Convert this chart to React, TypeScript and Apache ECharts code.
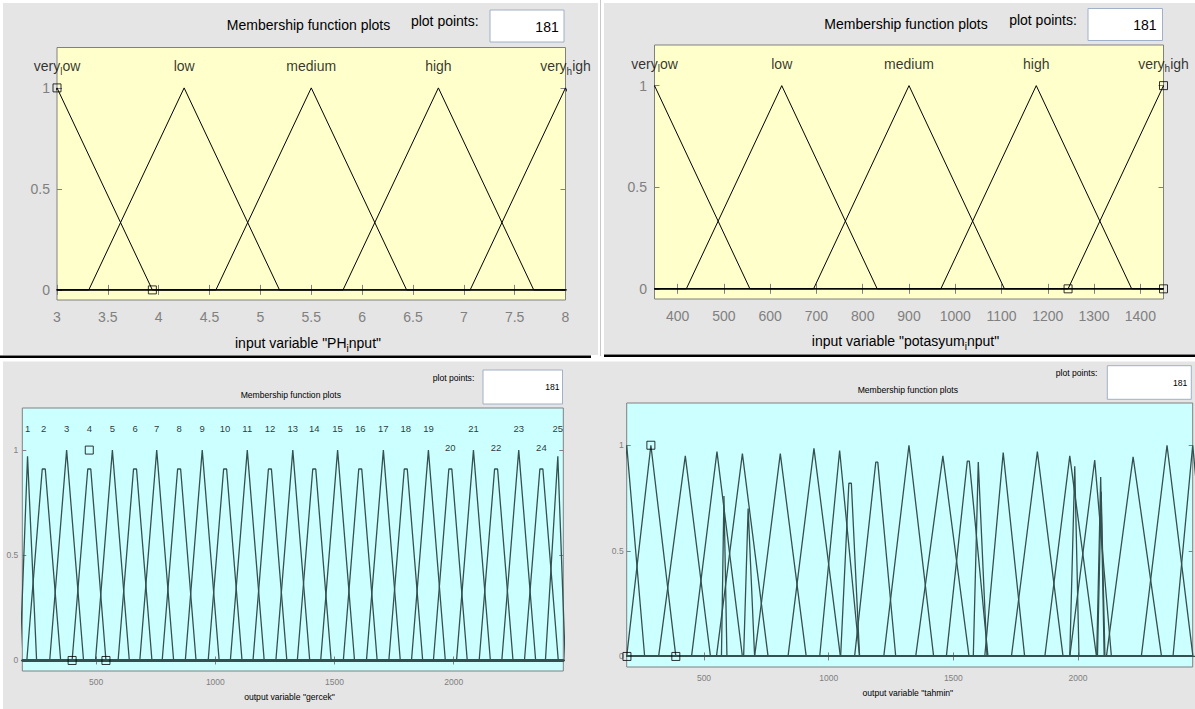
import React, { useEffect, useRef } from "react";
import * as echarts from "echarts";

// ---------------- data ----------------
const phLabels = ["very_low", "low", "medium", "high", "very_high"];
const phLeft = [2.0625, 3.3125, 4.5625, 5.8125, 7.0625];
const phPeak = [3, 4.25, 5.5, 6.75, 8];
const phRight = [3.9375, 5.1875, 6.4375, 7.6875, 8.9375];
const phTicks = [3, 3.5, 4, 4.5, 5, 5.5, 6, 6.5, 7, 7.5, 8];
const phSelected = [[3, 1], [3.9375, 0]];

const potLabels = ["very_low", "low", "medium", "high", "very_high"];
const potLeft = [143.75, 418.75, 693.75, 968.75, 1243.75];
const potPeak = [350, 625, 900, 1175, 1450];
const potRight = [556.25, 831.25, 1106.25, 1381.25, 1656.25];
const potTicks = [400, 500, 600, 700, 800, 900, 1000, 1100, 1200, 1300, 1400];
const potSelected = [[1243.75, 0], [1450, 1], [1450, 0]];

const gercekLabels = ["1", "2", "3", "4", "5", "6", "7", "8", "9", "10", "11", "12", "13", "14", "15", "16", "17", "18", "19", "20", "21", "22", "23", "24", "25"];
const gercekLeft = [180, 209, 305, 399, 497, 592, 683, 777, 874, 970, 1063, 1158, 1254, 1344, 1442, 1537, 1634, 1728, 1823, 1915, 2012, 2107, 2202, 2297, 2385];
const gercekPeak = [212, 280, 376, 471, 568, 663, 754, 848, 945, 1041, 1134, 1229, 1325, 1415, 1513, 1608, 1705, 1799, 1894, 1986, 2083, 2178, 2273, 2368, 2437];
const gercekRight = [250, 351, 447, 541, 639, 734, 825, 919, 1016, 1112, 1205, 1300, 1396, 1486, 1584, 1679, 1776, 1870, 1965, 2057, 2154, 2249, 2344, 2439, 2468];
const gercekHeight = [0.97, 0.91, 1, 0.91, 1, 0.91, 1, 0.91, 1, 0.91, 1, 0.91, 1, 0.91, 1, 0.91, 1, 0.91, 1, 0.91, 1, 0.91, 1, 0.91, 0.97];
const gercekFlat = [0, 12.6, 0, 12.6, 0, 12.6, 0, 12.6, 0, 12.6, 0, 12.6, 0, 12.6, 0, 12.6, 0, 12.6, 0, 12.6, 0, 12.6, 0, 12.6, 0];
const gercekSelected = [[399, 0], [471, 1], [541, 0]];

const tahminLeft = [118, 191, 318, 450, 570, 550, 659, 703, 837, 964, 1048, 1104, 1221, 1349, 1472, 1580, 1626, 1733, 1867, 1967, 1967, 2075, 2078, 2114, 2254, 2381];
const tahminPeak = [190, 287, 425, 552, 580, 654, 677, 806, 941, 1044, 1086, 1193, 1322, 1458, 1560, 1600, 1700, 1837, 1967, 1987, 2067, 2091, 2093, 2221, 2357, 2460];
const tahminRight = [262, 387, 526, 654, 592, 757, 703, 910, 1047, 1124, 1124, 1269, 1421, 1563, 1639, 1635, 1786, 1940, 2074, 2004, 2134, 2105, 2108, 2335, 2461, 2540];
const tahminHeight = [1, 1, 0.95, 0.97, 0.76, 0.96, 0.7, 0.96, 0.985, 0.975, 0.82, 0.92, 1, 0.95, 0.925, 0.92, 0.965, 0.97, 0.95, 0.9, 0.93, 0.85, 0.78, 0.945, 1, 1];
const tahminFlat = [0, 0, 0, 0, 0, 0, 0, 0, 0, 0, 10, 8, 0, 0, 8, 0, 0, 0, 0, 0, 0, 0, 0, 0, 0, 0];
const tahminSelected = [[191, 0], [287, 1], [387, 0]];

const outTicks = [500, 1000, 1500, 2000];
const yTicks = [0, 0.5, 1];
const plotPoints = "181";

// ---------------- styling ----------------
const FONT = "'Liberation Sans', Arial, sans-serif";
const PANEL = "#e5e5e5";
const YELLOW = "#ffffcc";
const CYAN = "#ccffff";
const TICKC = "#808080";

const tex = (s: string) => s.replace(/_(.)/g, "{s|$1}");

function mfSeries(gi: number, min: number, max: number, left: number[], peak: number[], right: number[],
  height: number[] | null, flat: number[] | null, color: string, width: number) {
  return left.map((a, i) => {
    const h = height ? height[i] : 1;
    const f = flat ? flat[i] : 0;
    const pts: number[][] = [[min, 0], [a, 0]];
    if (f > 0) pts.push([peak[i] - f / 2, h], [peak[i] + f / 2, h]);
    else pts.push([peak[i], h]);
    pts.push([right[i], 0], [max, 0]);
    return {
      type: "line", xAxisIndex: gi * 2, yAxisIndex: gi * 2, data: pts,
      showSymbol: false, symbol: "none", silent: true, clip: true, z: 3,
      lineStyle: { color, width },
    };
  });
}

function squares(gi: number, pts: number[][], size: number) {
  return {
    type: "scatter", xAxisIndex: gi * 2, yAxisIndex: gi * 2, data: pts, symbol: "rect",
    symbolSize: size, clip: false, silent: true, z: 5,
    itemStyle: { color: "rgba(0,0,0,0)", borderColor: "#000", borderWidth: 1 },
  };
}

function labelSeries(gi: number, data: any[], fontSize: number, subSize: number, subPad: number) {
  return {
    type: "scatter", xAxisIndex: gi * 2, yAxisIndex: gi * 2, data, symbolSize: 1,
    clip: false, silent: true, z: 6,
    itemStyle: { color: "rgba(0,0,0,0)" },
    label: {
      show: true, position: "inside", color: "#000", fontSize, fontFamily: FONT,
      formatter: (p: any) => tex(p.data[2]),
      rich: { s: { fontSize: subSize, fontFamily: FONT, color: "#000", padding: [subPad, 0, 0, 0] } },
    },
  };
}

function axes(gi: number, min: number, max: number, ticks: number[], fs: number, xm: number, ym: number, tl: number) {
  const tick = (vals: number[]) => ({ show: true, inside: true, length: tl, customValues: vals, lineStyle: { color: TICKC, width: 1 } });
  const lab = (vals: number[], m: number, show: boolean) => ({
    show, customValues: vals, color: TICKC, fontSize: fs, fontFamily: FONT, margin: m,
    showMinLabel: true, showMaxLabel: true, hideOverlap: false,
    formatter: (v: number) => String(v),
  });
  const base = { type: "value", gridIndex: gi, axisLine: { show: false }, splitLine: { show: false } };
  const x = [
    { ...base, min, max, position: "bottom", axisTick: tick(ticks), axisLabel: lab(ticks, xm, true) },
    { ...base, min, max, position: "top", axisTick: tick(ticks), axisLabel: lab(ticks, xm, false) },
  ];
  const y = [
    { ...base, min: -0.05, max: 1.2, position: "left", axisTick: tick(yTicks), axisLabel: lab(yTicks, ym, true) },
    { ...base, min: -0.05, max: 1.2, position: "right", axisTick: tick(yTicks), axisLabel: lab(yTicks, ym, false) },
  ];
  return { x, y };
}

function txt(x: number, y: number, text: string, fs: number, align = "center", extra: any = {}) {
  return {
    type: "text", x, y, z: 10, silent: true,
    style: { text, fill: "#000", fontSize: fs, fontFamily: FONT, align, verticalAlign: "middle", ...extra },
  };
}

function rect(x: number, y: number, w: number, h: number, fill: string, stroke?: string, z = -10) {
  return {
    type: "rect", z, silent: true, shape: { x, y, width: w, height: h },
    style: { fill, stroke: stroke || "none", lineWidth: stroke ? 1 : 0 },
  };
}

function buildOption() {
  const a0 = axes(0, 3, 8, phTicks, 14, 10, 7, 5);
  const a1 = axes(1, 350, 1450, potTicks, 14, 9.5, 7.5, 5);
  const a2 = axes(2, 190, 2460, outTicks, 8.5, 6.5, 4, 4);
  const a3 = axes(3, 190, 2460, outTicks, 8.5, 6.5, 3, 4);

  const gridBase = { show: true, borderColor: "#808080", borderWidth: 1, containLabel: false };
  const grid = [
    { ...gridBase, left: 57, top: 47.5, width: 508.5, height: 252.5, backgroundColor: YELLOW },
    { ...gridBase, left: 654.5, top: 45, width: 509, height: 254, backgroundColor: YELLOW },
    { ...gridBase, left: 22.3, top: 408, width: 541, height: 263, backgroundColor: CYAN },
    { ...gridBase, left: 626.7, top: 403, width: 566, height: 264, backgroundColor: CYAN },
  ];

  const lower = new Set(["20", "22", "24"]);
  const series: any[] = [
    ...mfSeries(0, 3, 8, phLeft, phPeak, phRight, null, null, "#000", 1),
    ...mfSeries(1, 350, 1450, potLeft, potPeak, potRight, null, null, "#000", 1),
    ...mfSeries(2, 190, 2460, gercekLeft, gercekPeak, gercekRight, gercekHeight, gercekFlat, "#34504f", 1.3),
    ...mfSeries(3, 190, 2460, tahminLeft, tahminPeak, tahminRight, tahminHeight, tahminFlat, "#34504f", 1.3),
    squares(0, phSelected, 8),
    squares(1, potSelected, 8),
    squares(2, gercekSelected, 8),
    squares(3, tahminSelected, 8),
    labelSeries(0, phPeak.map((x, i) => [x, 1.107, phLabels[i]]), 14, 10, 10),
    labelSeries(1, potPeak.map((x, i) => [x, 1.107, potLabels[i]]), 14, 10, 10),
    labelSeries(2, gercekPeak.map((x, i) => [x, lower.has(gercekLabels[i]) ? 1.011 : 1.103, gercekLabels[i]]), 9.5, 8, 6),
  ];

  const subRich = (fs: number, pad: number) => ({ s: { fontSize: fs, fontFamily: FONT, fill: "#000", padding: [pad, 0, 0, 0] } });

  const graphic: any[] = [
    // panels
    rect(3, 3, 595, 352, PANEL),
    rect(604, 3, 591, 351, PANEL),
    rect(3, 361.5, 594, 347.5, PANEL),
    rect(597, 361.5, 598, 347.5, PANEL),
    { type: "line", z: -5, silent: true, shape: { x1: 600.5, y1: 0, x2: 600.5, y2: 356 }, style: { stroke: "#c8c8c8", lineWidth: 1 } },
    { type: "line", z: 9, silent: true, shape: { x1: 0, y1: 356.8, x2: 591, y2: 356.8 }, style: { stroke: "#000", lineWidth: 2.5 } },
    { type: "line", z: 9, silent: true, shape: { x1: 604, y1: 355.8, x2: 1195, y2: 355.8 }, style: { stroke: "#000", lineWidth: 2.5 } },
    // top-left header
    txt(308.5, 25, "Membership function plots", 14),
    txt(444.8, 21, "plot points:", 14),
    rect(490, 10, 74, 32, "#fff", "#a0b0c8", 8),
    txt(558.7, 26.7, plotPoints, 14, "right"),
    txt(308, 343, tex('input variable "PH_input"'), 14, "center", { rich: subRich(10, 10) }),
    // top-right header
    txt(906, 24, "Membership function plots", 14),
    txt(1043, 20, "plot points:", 14),
    rect(1088, 8.5, 74.5, 32, "#fff", "#a0b0c8", 8),
    txt(1156.5, 25, plotPoints, 14, "right"),
    txt(905.5, 341, tex('input variable "potasyum_input"'), 14, "center", { rich: subRich(10, 10) }),
    // bottom-left header
    txt(290.8, 395, "Membership function plots", 8.6),
    txt(453.5, 378.3, "plot points:", 8.6),
    rect(483, 370, 79.5, 34, "#fff", "#a0b0c8", 8),
    txt(559.5, 387.3, plotPoints, 8.6, "right"),
    txt(289.5, 697, 'output variable "gercek"', 8.6),
    // bottom-right header
    txt(907.8, 390, "Membership function plots", 8.6),
    txt(1076.6, 373.3, "plot points:", 8.6),
    rect(1107.3, 365.7, 84, 33.6, "#fff", "#a0b0c8", 8),
    txt(1187.4, 383.3, plotPoints, 8.6, "right"),
    txt(907.8, 693.3, 'output variable "tahmin"', 8.6),
  ];

  return {
    animation: false,
    backgroundColor: "#ffffff",
    grid,
    xAxis: [...a0.x, ...a1.x, ...a2.x, ...a3.x],
    yAxis: [...a0.y, ...a1.y, ...a2.y, ...a3.y],
    series,
    graphic,
  };
}

export default function App() {
  const ref = useRef<HTMLDivElement>(null);
  useEffect(() => {
    if (!ref.current) return;
    const chart = echarts.init(ref.current, null, { renderer: "svg" });
    chart.setOption(buildOption() as any);
    return () => chart.dispose();
  }, []);
  return (
    <div
      ref={ref}
      style={{ position: "absolute", left: 0, top: 0, width: 1195, height: 709, background: "#fff" }}
    />
  );
}
